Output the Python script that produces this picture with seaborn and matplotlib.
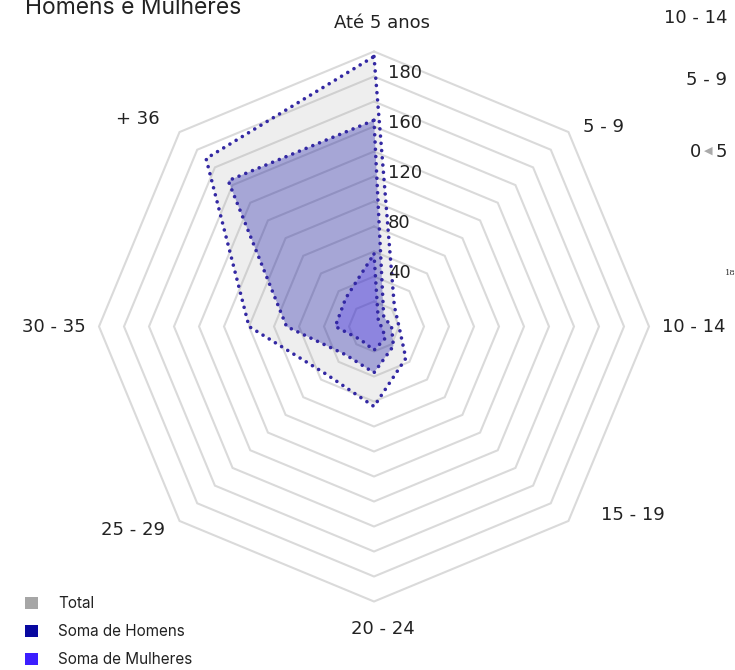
import numpy as np
import pandas as pd
import matplotlib
matplotlib.use('Agg')
import matplotlib.pyplot as plt
import matplotlib.transforms as mtransforms
from matplotlib.patches import Patch
import seaborn as sns

# ---------------- data ----------------
categories = ['Até 5 anos', '5 - 9', '10 - 14', '15 - 19', '20 - 24', '25 - 29', '30 - 35', '+ 36']
total = [216, 23, 20, 36, 64, 54, 100, 190]
homens = [165, 11, 14, 22, 37, 32, 70, 165]
mulheres = [58, 5, 6, 13, 19, 15, 31, 32]
grid_values = [20, 40, 60, 80, 100, 120, 140, 160, 180, 200, 220]
rtick_values = [40, 80, 120, 160, 200]
rtick_labels = ['40', '80', '120', '160', '180']
series_names = ['Total', 'Soma de Homens', 'Soma de Mulheres']
legend_colors = ['#a6a6a6', '#0808a0', '#3c1eff']
title = 'Homens e Mulheres'
stray_labels = ['10 - 14', '5 - 9']

# ---------------- style ----------------
sns.set_theme(style='white')
plt.rcParams['font.family'] = ['DejaVu Sans']
label_font = ['DejaVu Sans']
ui_font = ['Inter', 'DejaVu Sans']

W, H = 735, 670
fig = plt.figure(figsize=(W / 100, H / 100), dpi=100)
cx, cy = 374, H - 326.5
R = 290
px_per_unit = 1.25
rmax = R / px_per_unit
ax = fig.add_axes([(cx - R) / W, (cy - R) / H, 2 * R / W, 2 * R / H], projection='polar')
ax.set_theta_zero_location('N')
ax.set_theta_direction(-1)
ax.patch.set_alpha(0)

n = len(categories)
theta = np.linspace(0, 2 * np.pi, n, endpoint=False)
tc = np.append(theta, theta[0])

# octagonal grid
for g in grid_values:
    ax.plot(tc, [g] * (n + 1), color='#dadada', lw=1.5, zorder=1, solid_joinstyle='miter')

fills = [('#a6a6a6', 0.18), ('#0000a0', 0.30), ('#3f1fff', 0.24)]
for vals, (c, a) in zip([total, homens, mulheres], fills):
    vc = np.append(vals, vals[0])
    ax.fill(tc, vc, color=c, alpha=a, lw=0, zorder=2)
    df = pd.DataFrame({'theta': tc, 'r': vc})
    sns.lineplot(data=df, x='theta', y='r', sort=False, estimator=None, ax=ax,
                 color='#3328a3', lw=2.6, linestyle=(0, (0.01, 2.0)),
                 dash_capstyle='round', zorder=3)

ax.set_ylim(0, rmax)
ax.grid(False)
ax.spines['polar'].set_visible(False)
ax.set_xticks([])
ax.set_yticks([])
ax.set_xlabel('')
ax.set_ylabel('')

# category labels (pixel nudges to follow the reference layout)
label_nudges = [(8, 0), (5, -4), (0, 0), (23, 15), (9, 0), (-5, 0), (0, 0), (-11, 4)]
for t, lab, (dx, dy) in zip(theta, categories, label_nudges):
    s, c = np.sin(t), np.cos(t)
    ha = 'left' if s > 0.1 else ('right' if s < -0.1 else 'center')
    r_px = 303 if abs(c) > 0.9 else 288
    tr = mtransforms.offset_copy(ax.transData, fig=fig, x=dx, y=dy, units='dots')
    ax.text(t, r_px / px_per_unit, lab, transform=tr, ha=ha, va='center', fontsize=13,
            color='#222222', zorder=5, clip_on=False, family=label_font)

# radial tick labels
off = mtransforms.offset_copy(ax.transData, fig=fig, x=14, y=4, units='dots')
for v, lab in zip(rtick_values, rtick_labels):
    ax.text(0, v, lab, transform=off, ha='left', va='center', fontsize=13,
            color='#222222', zorder=5, family=label_font)

# title (clipped at top)
fig.text(25 / W, 1 - 14 / H, title, fontsize=16.5, ha='left', va='baseline', color='#222222',
         family=ui_font)

# stray labels at top right
fig.text(727 / W, 1 - 18 / H, stray_labels[0], ha='right', va='center', fontsize=13,
         color='#222222', family=label_font)
fig.text(727 / W, 1 - 80 / H, stray_labels[1], ha='right', va='center', fontsize=13,
         color='#222222', family=label_font)
fig.text(727 / W, 1 - 152 / H, '5', ha='right', va='center', fontsize=13, color='#222222',
         family=label_font)
fig.text(712 / W, 1 - 151 / H, '◀', ha='right', va='center', fontsize=8, color='#aaaaaa',
         family=['DejaVu Sans'])
fig.text(701 / W, 1 - 152 / H, '0', ha='right', va='center', fontsize=13, color='#222222',
         family=label_font)
fig.text(725 / W, 1 - 273 / H, '18', ha='left', va='center', fontsize=6, color='#333333',
         family=['DejaVu Serif'])

# legend
handles = [Patch(facecolor=c, edgecolor='none') for c in legend_colors]
fig.legend(handles, series_names, loc='upper left', bbox_to_anchor=(25 / W, 1 - 596 / H),
           bbox_transform=fig.transFigure, frameon=False,
           prop={'family': ui_font, 'size': 11},
           handlelength=0.85, handleheight=0.85, handletextpad=1.3, labelspacing=0.85,
           borderpad=0, borderaxespad=0, labelcolor='#222222')

fig.savefig('out.png', dpi=100)
